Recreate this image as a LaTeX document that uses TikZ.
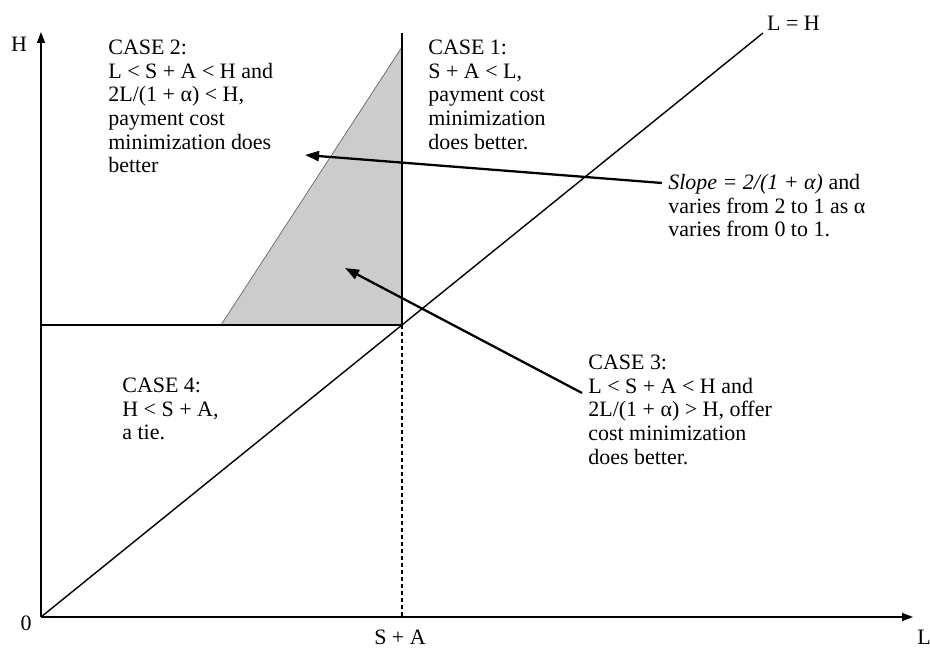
\documentclass[tikz,border=0pt]{standalone}
\usepackage{fontspec}
\setmainfont{Liberation Serif}
\usetikzlibrary{arrows.meta, calc, positioning}

\begin{document}
\begin{tikzpicture}
    \fontsize{12.5}{13.4}\selectfont
    \useasboundingbox (0,0) rectangle (18.6,13);
    \tikzset{
        axis/.style={line width=0.8pt, -{Triangle[length=2.2mm, width=1.6mm]}},
        pointer/.style={line width=1.3pt, -{Triangle[length=2.8mm, width=2mm]}},
        casetext/.style={align=left, anchor=north west, inner sep=0pt},
    }
    \coordinate (origin) at (0.82,0.66);
    \coordinate (ytop) at (0.82,12.36);
    \coordinate (xend) at (18.26,0.66);
    \coordinate (kink) at (8.04,6.50);
    \coordinate (vtop) at (8.04,12.34);
    \coordinate (slopetop) at (8.04,12.06);
    \coordinate (slopefoot) at (4.42,6.50);
    \coordinate (hleft) at (0.82,6.50);
    \coordinate (sa) at (8.04,0.66);
    \coordinate (diagend) at (15.26,12.34);

% shaded region (case 3)
    \fill[gray!40] (slopefoot) -- (slopetop) -- (kink) -- cycle;
    \draw[gray!80!black, line width=0.4pt] (slopefoot) -- (slopetop);

% axes
    \draw[axis] (origin) -- (ytop);
    \draw[axis] (origin) -- (xend);
    \node (hlabel) at (0.38,12.12) {H};
    \node (zero) at (0.52,0.54) {0};
    \node (llabel) at (18.48,0.26) {L};
    \node (salabel) at (8.0,0.26) {S + A};

% boundaries
    \draw[line width=0.6pt] (hleft) -- (kink);
    \draw[line width=0.6pt] (kink) -- (vtop);
    \draw[line width=0.6pt, dash pattern=on 0.08cm off 0.06cm] (kink) -- (sa);
    \draw[line width=0.8pt] (origin) -- (diagend);
    \node[anchor=south west, inner sep=1pt] (lh) at (15.3,12.34) {L = H};

% regions
    \node[casetext] (case2) at (2.16,12.2) {CASE 2:\\L < S + A < H and\\2L/(1 + α) < H,\\payment cost\\minimization does\\better};
    \node[casetext] (case1) at (8.56,12.2) {CASE 1:\\S + A < L,\\payment cost\\minimization\\does better.};
    \node[casetext] (slope) at (13.36,9.52) {\textit{Slope = 2/(1 + α)} and\\varies from 2 to 1 as α\\varies from 0 to 1.};
    \node[casetext] (case3) at (11.76,5.9) {CASE 3:\\L < S + A < H and\\2L/(1 + α) > H, offer\\cost minimization\\does better.};
    \node[casetext] (case4) at (2.44,5.44) {CASE 4:\\H < S + A,\\a tie.};

% pointers
    \coordinate (slopetip) at (6.10,9.90);
    \coordinate (case3tip) at (6.90,7.64);
    \draw[pointer] ($(slope.north west)+(-0.12,-0.18)$) -- (slopetip);
    \draw[pointer] ($(case3.north west)+(-0.12,-0.76)$) -- (case3tip);

\end{tikzpicture}
\end{document}
